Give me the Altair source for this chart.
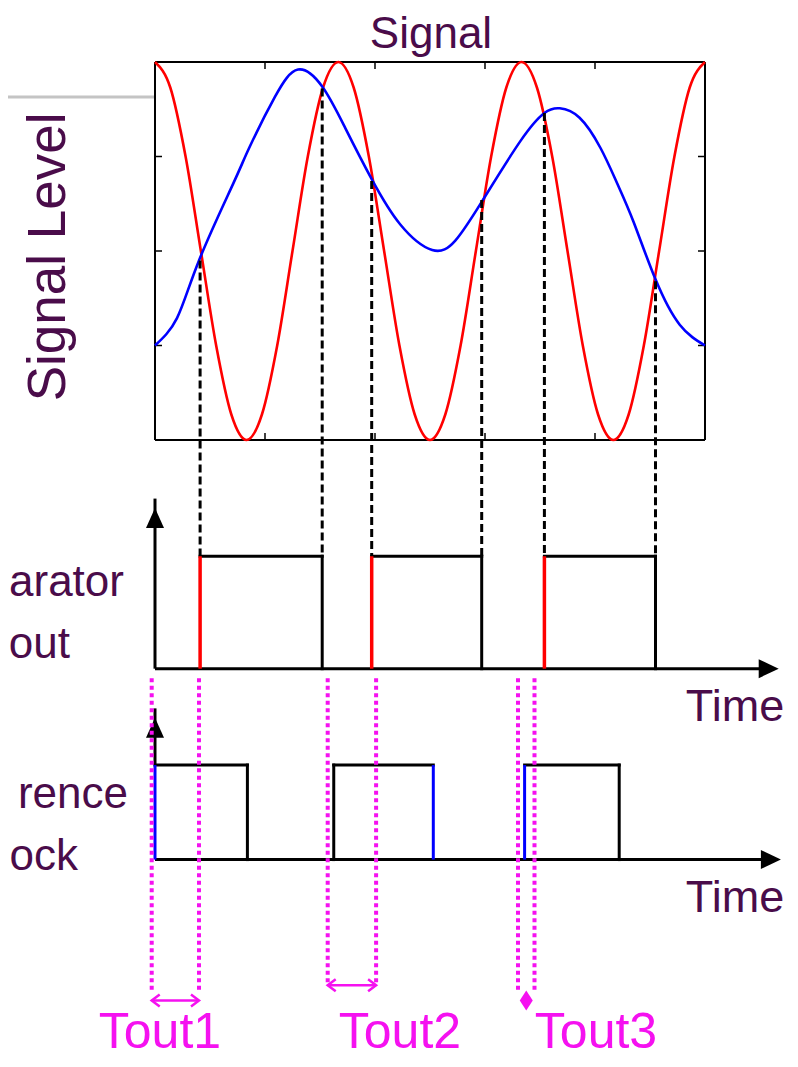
import altair as alt
import pandas as pd

# ---------------- values ----------------
# Time unit = one x-tick interval of the signal plot (plot spans 0..5),
# level unit = one y-tick interval (plot spans 0..4).
red_t = [0.000, 0.139, 0.278, 0.417, 0.556, 0.694, 0.833, 0.972, 1.111, 1.250,
         1.389, 1.528, 1.667, 1.806, 1.944, 2.083, 2.222, 2.361, 2.500, 2.639,
         2.778, 2.917, 3.056, 3.194, 3.333, 3.472, 3.611, 3.750, 3.889, 4.028,
         4.167, 4.306, 4.444, 4.583, 4.722, 4.861, 5.000]
red_v = [4.00, 3.73, 3.00, 2.00, 1.00, 0.27, 0.00, 0.27, 1.00, 2.00,
         3.00, 3.73, 4.00, 3.73, 3.00, 2.00, 1.00, 0.27, 0.00, 0.27,
         1.00, 2.00, 3.00, 3.73, 4.00, 3.73, 3.00, 2.00, 1.00, 0.27,
         0.00, 0.27, 1.00, 2.00, 3.00, 3.73, 4.00]

blue_t = [0.00, 0.20, 0.40, 0.71, 0.86, 1.09, 1.30, 1.52, 1.73, 1.97, 2.23, 2.52,
          2.73, 2.97, 3.32, 3.54, 3.68, 3.86, 4.05, 4.20, 4.35, 4.55, 4.77, 5.00]
blue_v = [1.00, 1.29, 1.90, 2.71, 3.10, 3.63, 3.92, 3.74, 3.30, 2.76, 2.28, 2.01,
          2.11, 2.52, 3.16, 3.46, 3.51, 3.41, 3.09, 2.72, 2.31, 1.70, 1.22, 1.00]

x_ticks = [1, 2, 3, 4]
y_ticks = [1, 2, 3]

cross_t = [0.41, 1.52, 1.97, 2.97, 3.54, 4.55]
cross_v = [1.90, 3.72, 2.74, 2.54, 3.46, 1.68]

comp_rise = [0.41, 1.97, 3.54]
comp_fall = [1.52, 2.97, 4.55]

ref_rise = [0.00, 1.625, 3.36]
ref_fall = [0.84, 2.53, 4.22]
ref_rise_marked = [True, False, True]
ref_fall_marked = [False, True, False]

tout_names = ["Tout1", "Tout2", "Tout3"]
tout_start = [-0.03, 1.57, 3.30]
tout_end = [0.40, 2.01, 3.45]

# ---------------- layout (diagram units) ----------------
X0, X1 = -1.33636, 5.77273
Y0, Y1 = -6.55026, 4.57143
T_END = 5.0
COMP_BASE, COMP_HIGH, COMP_AXIS_TOP = -2.42, -1.23, -0.72
REF_BASE, REF_HIGH, REF_AXIS_TOP = -4.44, -3.44, -2.94
TIME_TIP = 5.67
GUIDE_TOP = -2.52
GUIDE_BOTTOM = [-5.85, -5.75, -5.83]
TOUT_ARROW_Y = [-5.93, -5.77, -5.93]

PURPLE = "#4a0c4a"
MAGENTA = "#f511f0"
FONT = "Liberation Sans"

xs = alt.Scale(domain=[X0, X1], nice=False, zero=False)
ys = alt.Scale(domain=[Y0, Y1], nice=False, zero=False)


def ex(f):
    return alt.X(f, type="quantitative", scale=xs, axis=None)


def ey(f):
    return alt.Y(f, type="quantitative", scale=ys, axis=None)


def seg(rows):
    return pd.DataFrame(rows, columns=["x", "x2", "y", "y2"])


def rules(df, color, width, dash=None, cap="butt"):
    kw = dict(color=color, strokeWidth=width, strokeCap=cap)
    if dash:
        kw["strokeDash"] = dash
    return alt.Chart(df).mark_rule(**kw).encode(
        x=ex("x"), x2=alt.X2("x2"), y=ey("y"), y2=alt.Y2("y2"))


def texts(df, size, color, align="center", angle=0):
    return alt.Chart(df).mark_text(
        fontSize=size, color=color, align=align, angle=angle,
        baseline="alphabetic", font=FONT).encode(
        x=ex("x"), y=ey("y"), text="label:N")


def marker(df, shape, size, color, filled=True, width=0.0):
    return alt.Chart(df).mark_point(
        shape=shape, size=size, filled=filled, color=color, opacity=1,
        strokeWidth=width).encode(x=ex("x"), y=ey("y"))


layers = []

# slide artifact line at top left
layers.append(rules(seg([(X0, 0.0, 3.63, 3.63)]), "#c4c4c4", 3))

# signal plot frame and inward ticks
layers.append(rules(seg([(0, T_END, 4, 4), (0, T_END, 0, 0),
                         (0, 0, 0, 4), (T_END, T_END, 0, 4)]), "black", 2))
tx = pd.DataFrame({"x": x_ticks})
ty = pd.DataFrame({"y": y_ticks})
for yy, off in [(4, 3.5), (0, -3.5)]:
    layers.append(alt.Chart(tx.assign(y=yy)).mark_tick(
        orient="vertical", size=7, thickness=1.5, color="black", opacity=1,
        yOffset=off).encode(x=ex("x"), y=ey("y")))
for xx, off in [(0, 3.5), (T_END, -3.5)]:
    layers.append(alt.Chart(ty.assign(x=xx)).mark_tick(
        orient="horizontal", size=7, thickness=1.5, color="black", opacity=1,
        xOffset=off).encode(x=ex("x"), y=ey("y")))

# signals
layers.append(alt.Chart(pd.DataFrame({"x": red_t, "y": red_v})).mark_line(
    color="#ff0000", strokeWidth=2.6, interpolate="monotone").encode(x=ex("x"), y=ey("y")))
layers.append(alt.Chart(pd.DataFrame({"x": blue_t, "y": blue_v})).mark_line(
    color="#0000ff", strokeWidth=2.6, interpolate="natural").encode(x=ex("x"), y=ey("y")))

# dashed projection lines
layers.append(rules(seg([(t, t, v, COMP_HIGH) for t, v in zip(cross_t, cross_v)]),
                    "black", 3, dash=[8, 4]))

# comparator output
layers.append(rules(seg([(0, TIME_TIP - 0.1, COMP_BASE, COMP_BASE),
                         (0, 0, COMP_BASE, COMP_AXIS_TOP + 0.1)]), "black", 3))
layers.append(rules(seg([(r, f, COMP_HIGH, COMP_HIGH) for r, f in zip(comp_rise, comp_fall)]
                        + [(f, f, COMP_BASE, COMP_HIGH) for f in comp_fall]),
                    "black", 3, cap="square"))
layers.append(rules(seg([(r, r, COMP_BASE, COMP_HIGH) for r in comp_rise]), "#ff0000", 3.5))

# reference clock
layers.append(rules(seg([(0, TIME_TIP - 0.08, REF_BASE, REF_BASE),
                         (0, 0, REF_HIGH, REF_AXIS_TOP + 0.1)]), "black", 3))
ref_black = [(r, f, REF_HIGH, REF_HIGH) for r, f in zip(ref_rise, ref_fall)]
ref_blue = []
for r, m in zip(ref_rise, ref_rise_marked):
    (ref_blue if m else ref_black).append((r, r, REF_BASE, REF_HIGH))
for f, m in zip(ref_fall, ref_fall_marked):
    (ref_blue if m else ref_black).append((f, f, REF_BASE, REF_HIGH))
layers.append(rules(seg(ref_black), "black", 3, cap="square"))
layers.append(rules(seg(ref_blue), "#0000ff", 3))

# axis arrow heads (tip at the data point)
up_head = "M0,0 L-0.9,2 L0.9,2 Z"
right_head = "M0,0 L-2,-0.95 L-2,0.95 Z"
layers.append(marker(pd.DataFrame({"x": [0, 0], "y": [COMP_AXIS_TOP, REF_AXIS_TOP]}),
                     up_head, 400, "black"))
layers.append(marker(pd.DataFrame({"x": [TIME_TIP, TIME_TIP + 0.02], "y": [COMP_BASE, REF_BASE]}),
                     right_head, 400, "black"))

# Tout guide lines (dotted magenta)
guide_rows = []
for s, e, b in zip(tout_start, tout_end, GUIDE_BOTTOM):
    guide_rows += [(s, s, GUIDE_TOP, b), (e, e, GUIDE_TOP, b)]
layers.append(rules(seg(guide_rows), MAGENTA, 4, dash=[4, 3.5]))

# Tout double arrows (first two) and pointer (third)
arrow_rows = [(s, e, y, y) for s, e, y in zip(tout_start[:2], tout_end[:2], TOUT_ARROW_Y[:2])]
layers.append(rules(seg(arrow_rows), MAGENTA, 2.5))
left_chev = "M1,-0.75 L0,0 L1,0.75"
right_chev = "M-1,-0.75 L0,0 L-1,0.75"
layers.append(marker(pd.DataFrame({"x": tout_start[:2], "y": TOUT_ARROW_Y[:2]}),
                     left_chev, 256, MAGENTA, filled=False, width=2.5))
layers.append(marker(pd.DataFrame({"x": tout_end[:2], "y": TOUT_ARROW_Y[:2]}),
                     right_chev, 256, MAGENTA, filled=False, width=2.5))
layers.append(marker(pd.DataFrame({"x": [(tout_start[2] + tout_end[2]) / 2], "y": [TOUT_ARROW_Y[2]]}),
                     "M0,-1 L0.65,0 L0,1 L-0.65,0 Z", 400, MAGENTA))

# texts
layers.append(texts(pd.DataFrame({"x": [2.509], "y": [4.148], "label": ["Signal"]}), 44, PURPLE))
layers.append(texts(pd.DataFrame({"x": [-0.818], "y": [1.937], "label": ["Signal Level"]}),
                    53, PURPLE, angle=270))
layers.append(texts(pd.DataFrame({"x": [-0.282, -0.773, -0.245, -0.700],
                                  "y": [-1.651, -2.307, -3.894, -4.550],
                                  "label": ["arator", "out", "rence", "ock"]}),
                    44, PURPLE, align="right"))
layers.append(texts(pd.DataFrame({"x": [5.273, 5.273], "y": [-2.97, -4.995],
                                  "label": ["Time", "Time"]}), 45, PURPLE))
layers.append(texts(pd.DataFrame({"x": [0.045, 2.227, 4.009], "y": [-6.434, -6.434, -6.434],
                                  "label": tout_names}), 50, MAGENTA))

chart = alt.layer(*layers).properties(
    width=782, height=1051, padding=0,
    autosize=alt.AutoSizeParams(type="none"),
    background="white",
).configure_view(stroke=None)

chart.save("out.html", embed_options={"renderer": "svg", "actions": False})
